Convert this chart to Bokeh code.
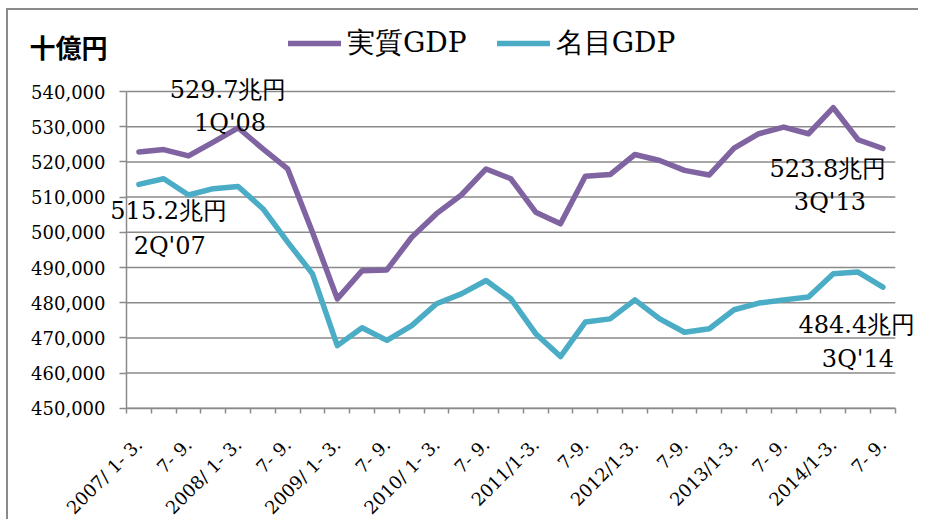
from math import pi
from bokeh.plotting import figure
from bokeh.models import (ColumnDataSource, FixedTicker, NumeralTickFormatter,
                          Legend, LegendItem, Label, Range1d)
from bokeh.embed import file_html
from bokeh.resources import INLINE

# ---------------- data ----------------
quarters = [f"{y}/{q}" for y in range(2007, 2015) for q in ("1-3", "4-6", "7-9", "10-12")][:31]
real_gdp = [522800, 523500, 521700, 525600, 529700, 523700, 518000, 500000,
            481100, 489100, 489300, 498600, 505300, 510600, 518000, 515200,
            505700, 502400, 515900, 516400, 522100, 520400, 517600, 516300,
            523900, 528000, 529900, 528000, 535400, 526300, 523800]
nominal_gdp = [513600, 515200, 510600, 512400, 513000, 506700, 497200, 488200,
               467800, 472900, 469300, 473500, 479700, 482500, 486300, 481100,
               471200, 464700, 474500, 475400, 480800, 475400, 471600, 472600,
               478000, 479900, 480800, 481600, 488200, 488700, 484400]
x_tick_labels = ["2007/ 1- 3.", "7- 9.", "2008/ 1- 3.", "7- 9.", "2009/ 1- 3.", "7- 9.",
                 "2010/ 1- 3.", "7- 9.", "2011/1-3.", "7-9.", "2012/1-3.", "7-9.",
                 "2013/1-3.", "7- 9.", "2014/1-3.", "7- 9."]
y_ticks = list(range(450000, 540001, 10000))
series_names = ["実質GDP", "名目GDP"]
unit_label = "十億円"
callout_series = [0, 1, 0, 1]
callout_index = [4, 1, 30, 30]
callout_value = ["529.7兆円", "515.2兆円", "523.8兆円", "484.4兆円"]
callout_period = ["1Q'08", "2Q'07", "3Q'13", "3Q'14"]

# ---------------- layout / style ----------------
SERIF = "DejaVu Serif"
GRID = "#8a8a8a"
COLORS = ["#8064A2", "#4BACC6"]
W, H = 917, 511                 # canvas size
PLOT_L, PLOT_T = 118, 81        # canvas px of plot-area left edge / top tick
CAT_W, PX_PER_10K = 24.8, 35.2  # px per category / per 10,000
# (dx, dy) pixel offsets of each callout's two lines relative to its point (dy: up positive)
callout_off1 = [(-10, 38), (5, -32), (-55, -20), (-26, -38)]
callout_off2 = [(-8, 5), (6, -67), (-53, -53), (-25, -72)]

n = len(quarters)
y_lo, y_hi = y_ticks[0], y_ticks[-1]
x0 = -PLOT_L / CAT_W
x1 = x0 + W / CAT_W
y1 = y_hi + PLOT_T / PX_PER_10K * 10000
y0 = y1 - H / PX_PER_10K * 10000

xs = [i + 0.5 for i in range(n)]
src = ColumnDataSource(dict(x=xs, real=real_gdp, nominal=nominal_gdp, q=quarters))

p = figure(width=W, height=H, min_border=0,
           x_range=Range1d(x0, x1), y_range=Range1d(y0, y1),
           output_backend="svg", toolbar_location=None)
p.styles = {"margin-left": "6px", "margin-top": "8px",
            "border-top": f"2px solid {GRID}", "border-left": f"2px solid {GRID}",
            "clip-path": "inset(0px 5px 0px 0px)"}
p.outline_line_color = None
p.background_fill_color = "white"
p.border_fill_color = "white"
p.xgrid.visible = False
p.ygrid.visible = False

# horizontal grid lines over the plot area
p.segment(x0=[0] * len(y_ticks), x1=[n] * len(y_ticks), y0=y_ticks, y1=y_ticks,
          line_color=GRID, line_width=1.5)

r1 = p.line("x", "real", source=src, line_color=COLORS[0], line_width=5.5,
            line_join="round", line_cap="round")
r2 = p.line("x", "nominal", source=src, line_color=COLORS[1], line_width=5.5,
            line_join="round", line_cap="round")

# y axis
yax = p.yaxis[0]
yax.fixed_location = 0
yax.bounds = (y_lo, y_hi)
yax.ticker = FixedTicker(ticks=y_ticks)
yax.formatter = NumeralTickFormatter(format="0,0")
yax.major_label_text_font = SERIF
yax.major_label_text_font_size = "18px"
yax.major_label_text_color = "black"
yax.major_label_standoff = 14
yax.major_tick_out = 7
yax.major_tick_in = 0
yax.minor_tick_line_color = None
yax.axis_line_color = GRID
yax.axis_line_width = 1.5
yax.major_tick_line_color = GRID
yax.major_tick_line_width = 1.5

# x axis
xax = p.xaxis[0]
xax.fixed_location = y_lo
xax.bounds = (0, n)
xax.ticker = FixedTicker(ticks=[xs[i] for i in range(0, n, 2)],
                         minor_ticks=list(range(n + 1)))
xax.major_label_overrides = {xs[i]: lab for i, lab in zip(range(0, n, 2), x_tick_labels)}
xax.major_label_orientation = pi / 4
xax.major_label_text_font = SERIF
xax.major_label_text_font_size = "18px"
xax.major_label_text_color = "black"
xax.major_label_standoff = 28
xax.major_tick_line_color = None
xax.major_tick_out = 0
xax.minor_tick_out = 5
xax.minor_tick_in = 0
xax.minor_tick_line_color = GRID
xax.minor_tick_line_width = 1.5
xax.axis_line_color = GRID
xax.axis_line_width = 1.5

# legend
legend = Legend(items=[LegendItem(label=series_names[0], renderers=[r1]),
                       LegendItem(label=series_names[1], renderers=[r2])],
                orientation="horizontal", location=(280, H - 52),
                glyph_width=53, glyph_height=20, label_standoff=6, spacing=30,
                padding=0, margin=0, border_line_color=None, background_fill_alpha=0,
                label_text_font=SERIF, label_text_font_size="28px", label_text_color="black")
p.add_layout(legend)

# unit label
p.add_layout(Label(x=21, y=H - 17, x_units="screen", y_units="screen", text=unit_label,
                   text_font="Noto Sans CJK JP", text_font_style="bold",
                   text_font_size="26px", text_baseline="top", text_color="black"))

# callouts
series_vals = [real_gdp, nominal_gdp]
for s, i, v, q, o1, o2 in zip(callout_series, callout_index, callout_value, callout_period,
                              callout_off1, callout_off2):
    yv = series_vals[s][i]
    for txt, (dx, dy) in ((v, o1), (q, o2)):
        p.add_layout(Label(x=xs[i], y=yv, text=txt, x_offset=dx, y_offset=dy,
                           text_align="center", text_baseline="alphabetic",
                           text_font=SERIF, text_font_size="24px", text_color="black"))

open("out.html", "w").write(file_html(p, INLINE))
